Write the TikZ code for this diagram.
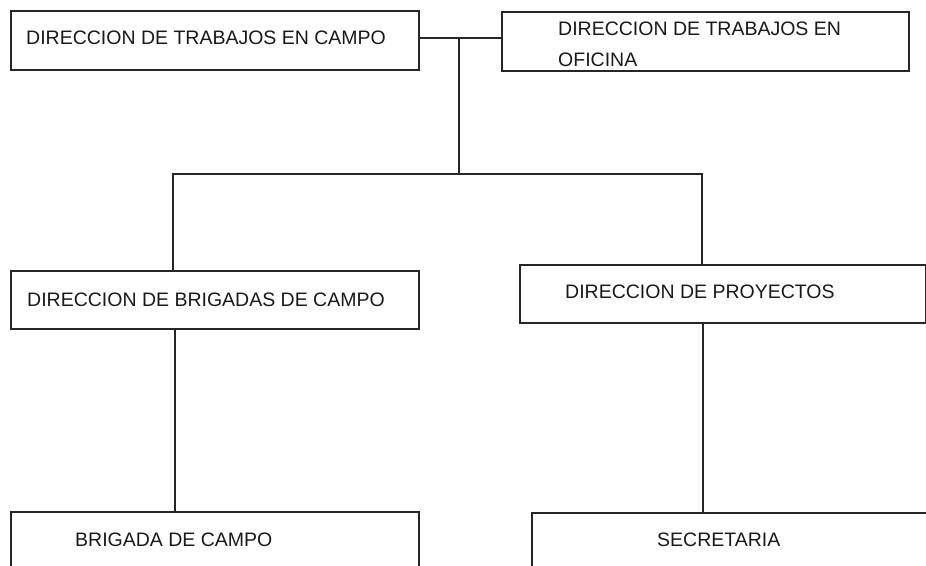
\documentclass[tikz,border=0pt]{standalone}
\usepackage{fontspec}
\setmainfont{Liberation Sans}
\begin{document}
\begin{tikzpicture}[x=1pt,y=-1pt,
  box/.style={draw=black!85, line width=1.8pt, rectangle, inner sep=0pt, anchor=north west},
  lbl/.style={inner sep=0pt, anchor=west, font=\fontsize{19.5}{31}\selectfont, text=black!90},
  conn/.style={draw=black!85, line width=1.8pt}]
\useasboundingbox (0,0) rectangle (926,565);
\clip (0,0) rectangle (926,565);
% boxes
\node[box, minimum width=408, minimum height=59] (b1) at (10,10) {};
\node[box, minimum width=407, minimum height=59] (b2) at (501,11) {};
\node[box, minimum width=408, minimum height=58] (b3) at (10,270) {};
\node[box, minimum width=406, minimum height=58] (b4) at (519,264) {};
\node[box, minimum width=408, minimum height=80] (b5) at (10,511) {};
\node[box, minimum width=420, minimum height=80] (b6) at (531,512) {};
% texts
\node[lbl] (t1) at (26,38) {DIRECCION DE TRABAJOS EN CAMPO};
\node[lbl] (t2a) at (558,29) {DIRECCION DE TRABAJOS EN};
\node[lbl] (t2b) at (558,60) {OFICINA};
\node[lbl] (t3) at (27,300) {DIRECCION DE BRIGADAS DE CAMPO};
\node[lbl] (t4) at (565,292) {DIRECCION DE PROYECTOS};
\node[lbl] (t5) at (75,540) {BRIGADA DE CAMPO};
\node[lbl] (t6) at (657,540) {SECRETARIA};
% connector coordinates
\coordinate (j) at (459,38);
\coordinate (h) at (459,174);
\coordinate (hl) at (173,174);
\coordinate (hr) at (702,174);
\coordinate (d3) at (175,328);
\coordinate (d4) at (703,322);
% connectors
\draw[conn] (b1.east |- j) -- (b2.west |- j);
\draw[conn] (j) -- (h);
\draw[conn] (b3.north -| hl) -- (hl) -- (hr) -- (b4.north -| hr);
\draw[conn] (d3) -- (b5.north -| d3);
\draw[conn] (d4) -- (b6.north -| d4);
\end{tikzpicture}
\end{document}
